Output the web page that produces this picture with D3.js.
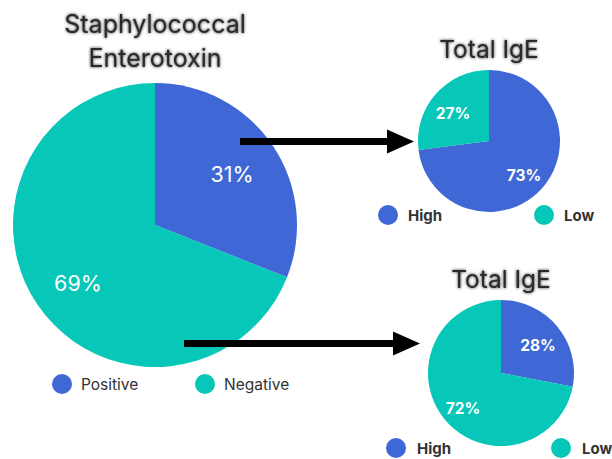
<!DOCTYPE html>
<html>
<head>
<meta charset="utf-8">
<script src="https://cdn.jsdelivr.net/npm/d3@7"></script>
<style>
  html, body { margin: 0; padding: 0; background: #fff; }
  svg { display: block; }
</style>
</head>
<body>
<svg id="chart" width="612" height="459"></svg>
<script>
// Enterotoxin status and total IgE split within each group
const enteroLabels = ["Positive", "Negative"];
const enteroValues = [31, 69];
const igeLabels = ["High", "Low"];
const igePositiveValues = [73, 27];
const igeNegativeValues = [28, 72];
const titleLines = ["Staphylococcal", "Enterotoxin"];
const igeTitle = "Total IgE";

const colors = d3.scaleOrdinal().domain([0, 1]).range(["#3F67D5", "#06C7B8"]);
const FONT = "Inter, 'Open Sans', sans-serif";

const svg = d3.select("#chart");

// soft glow behind the headings
const defs = svg.append("defs");
const glow = defs.append("filter").attr("id", "soft").attr("x", "-10%").attr("y", "-30%").attr("width", "120%").attr("height", "160%");
glow.append("feGaussianBlur").attr("in", "SourceGraphic").attr("stdDeviation", 1.6).attr("result", "b");
glow.append("feMerge").call(m => {
  m.append("feMergeNode").attr("in", "b");
  m.append("feMergeNode").attr("in", "SourceGraphic");
});

function drawPie(opts) {
  const g = svg.append("g").attr("transform", `translate(${opts.cx},${opts.cy})`);
  const pie = d3.pie().sort(null).value(d => d)(opts.values);
  const arc = d3.arc().innerRadius(0).outerRadius(opts.r);
  g.selectAll("path").data(pie).join("path")
    .attr("d", arc)
    .attr("fill", (d, i) => colors(i));
  g.selectAll("text.pct").data(pie).join("text")
    .attr("class", "pct")
    .attr("x", (d, i) => opts.labelPos[i][0] - opts.cx)
    .attr("y", (d, i) => opts.labelPos[i][1] - opts.cy)
    .attr("text-anchor", "middle")
    .attr("dominant-baseline", "central")
    .attr("fill", "#fff")
    .attr("font-family", FONT)
    .attr("font-weight", opts.labelWeight)
    .attr("font-size", opts.labelSize)
    .text(d => d.data + "%");
}

function drawLegend(items, pos, opts) {
  items.forEach((name, i) => {
    const [x, y] = pos[i];
    svg.append("circle").attr("cx", x).attr("cy", y).attr("r", opts.r).attr("fill", colors(i));
    svg.append("text")
      .attr("x", x + opts.gap).attr("y", y)
      .attr("dominant-baseline", "central")
      .attr("font-family", FONT)
      .attr("font-size", opts.size)
      .attr("font-weight", opts.weight)
      .attr("fill", "#333")
      .text(name);
  });
}

// Main pie: enterotoxin status
drawPie({
  cx: 155, cy: 225, r: 142,
  values: enteroValues,
  labelPos: [[232, 174], [78, 283]],
  labelSize: 21.5, labelWeight: 400
});
svg.append("g").attr("filter", "url(#soft)")
  .selectAll("text").data(titleLines).join("text")
  .attr("x", 155).attr("y", (d, i) => 33 + i * 34)
  .attr("text-anchor", "middle")
  .attr("font-family", FONT)
  .attr("font-size", 25)
  .attr("fill", "#2a2a2a")
  .text(d => d);
drawLegend(enteroLabels, [[62, 384], [205, 384]], { r: 10, gap: 19, size: 15.5, weight: 400 });

// Total IgE among enterotoxin-positive
drawPie({
  cx: 489, cy: 141, r: 71,
  values: igePositiveValues,
  labelPos: [[524, 175], [453, 113]],
  labelSize: 15.5, labelWeight: 700
});
svg.append("text").attr("filter", "url(#soft)")
  .attr("x", 489).attr("y", 58).attr("text-anchor", "middle")
  .attr("font-family", FONT).attr("font-size", 24.5).attr("fill", "#2a2a2a")
  .text(igeTitle);
drawLegend(igeLabels, [[388, 215], [544, 215]], { r: 10, gap: 20, size: 15, weight: 700 });

// Total IgE among enterotoxin-negative
drawPie({
  cx: 501, cy: 373, r: 73,
  values: igeNegativeValues,
  labelPos: [[538, 345], [463, 408]],
  labelSize: 15.5, labelWeight: 700
});
svg.append("text").attr("filter", "url(#soft)")
  .attr("x", 501).attr("y", 288).attr("text-anchor", "middle")
  .attr("font-family", FONT).attr("font-size", 24.5).attr("fill", "#2a2a2a")
  .text(igeTitle);
drawLegend(igeLabels, [[396, 448], [561, 448]], { r: 10, gap: 21, size: 15, weight: 700 });

// Arrows linking each enterotoxin group to its IgE breakdown
const arrows = [
  { x1: 240, y1: 141.5, x2: 414, y2: 141.5 },
  { x1: 184, y1: 343.5, x2: 420, y2: 343.5 }
];
svg.append("g").selectAll("line").data(arrows).join("line")
  .attr("x1", d => d.x1).attr("y1", d => d.y1)
  .attr("x2", d => d.x2 - 20).attr("y2", d => d.y2)
  .attr("stroke", "#000").attr("stroke-width", 7);
svg.append("g").selectAll("path").data(arrows).join("path")
  .attr("d", d => `M${d.x2 - 27},${d.y2 - 12} L${d.x2},${d.y2} L${d.x2 - 27},${d.y2 + 12} Z`)
  .attr("fill", "#000");
</script>
</body>
</html>
